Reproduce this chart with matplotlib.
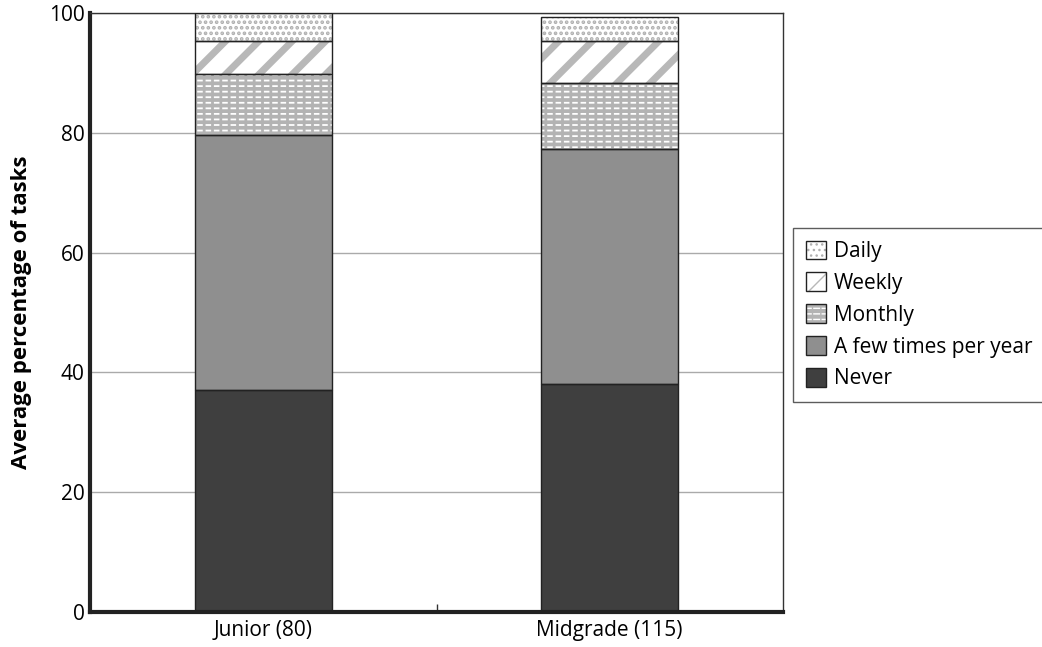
import numpy as np
import matplotlib.pyplot as plt
from matplotlib.patches import Patch
from matplotlib.legend_handler import HandlerTuple

groups = ['Junior (80)', 'Midgrade (115)']
never = [37.0, 38.0]
few_times = [42.6, 39.3]
monthly = [10.2, 11.0]
weekly = [5.5, 7.0]
daily = [4.7, 4.0]

series = ['Never', 'A few times per year', 'Monthly', 'Weekly', 'Daily']
values = [never, few_times, monthly, weekly, daily]
# list of layers per series: (face, hatch colour, hatch, hatch linewidth)
styles = [
    [('#3f3f3f', None, None, 1)],
    [('#8f8f8f', None, None, 1)],
    [('#b3b3b3', 'white', '---', 1.3), ('none', '#b3b3b3', '||', 2.0)],
    [('white', '#b8b8b8', '/', 5.0)],
    [('white', '#b0b0b0', '...', 1.8)],
]

plt.rcParams['font.family'] = ['Open Sans', 'DejaVu Sans']


def make_layer(ax, x, h, bottom, layer, width):
    face, hcol, hatch, hlw = layer
    with plt.rc_context({'hatch.linewidth': hlw}):
        if hatch:
            bars = ax.bar(x, h, width, bottom=bottom, color=face,
                          edgecolor=hcol, hatch=hatch, linewidth=0, zorder=2)
        else:
            bars = ax.bar(x, h, width, bottom=bottom, color=face, linewidth=0, zorder=2)
        for b in bars:
            if hasattr(b, 'set_hatch_linewidth'):
                b.set_hatch_linewidth(hlw)


def legend_handle(layers):
    parts = []
    for face, hcol, hatch, hlw in layers:
        lw = hlw if hatch == '/' else min(hlw, 2.5)
        with plt.rc_context({'hatch.linewidth': lw}):
            p = Patch(facecolor=face, edgecolor=hcol if hatch else face,
                      hatch=hatch, linewidth=0)
            if hasattr(p, 'set_hatch_linewidth'):
                p.set_hatch_linewidth(lw)
        parts.append(p)
    parts.append(Patch(fill=False, edgecolor='#222222', linewidth=1.0))
    return tuple(parts)


fig = plt.figure(figsize=(10.42, 6.47), dpi=100)
ax = fig.add_axes([90 / 1042, 35 / 647, 693 / 1042, 599 / 647])

x = np.arange(len(groups))
width = 0.395
bottom = np.zeros(len(groups))
handles = []
for name, vals, layers in zip(series, values, styles):
    for layer in layers:
        make_layer(ax, x, vals, bottom, layer, width)
    ax.bar(x, vals, width, bottom=bottom, fill=False, edgecolor='#222222',
           linewidth=1.0, zorder=3)
    bottom += np.array(vals)
    handles.append(legend_handle(layers))

ax.set_xlim(-0.5, 1.5)
ax.set_ylim(0, 100)
ax.set_yticks([0, 20, 40, 60, 80, 100])
ax.set_xticks(x)
ax.set_xticklabels(groups, fontsize=15)
ax.set_xticks([0.5], minor=True)
ax.tick_params(axis='x', which='major', length=0, pad=6)
ax.tick_params(axis='x', which='minor', direction='in', length=6, width=1, color='#333333')
ax.tick_params(axis='y', length=0, labelsize=15, pad=4)
ax.yaxis.grid(True, color='#aaaaaa', linewidth=1)
ax.set_axisbelow(True)
for s in ['left', 'bottom']:
    ax.spines[s].set_linewidth(3)
    ax.spines[s].set_color('#222222')
for s in ['top', 'right']:
    ax.spines[s].set_linewidth(1)
    ax.spines[s].set_color('#333333')
ax.set_ylabel('Average percentage of tasks', fontsize=16, fontweight='bold', labelpad=12)

leg = fig.legend(handles=handles[::-1], labels=series[::-1], loc='upper left',
                 bbox_to_anchor=(793 / 1042, 1 - 228 / 647), fontsize=15,
                 frameon=True, fancybox=False, edgecolor='#333333',
                 handlelength=1.0, handleheight=1.0, handletextpad=0.35,
                 labelspacing=0.5, borderpad=0.6, borderaxespad=0,
                 handler_map={tuple: HandlerTuple(ndivide=1, pad=0)})
leg.get_frame().set_linewidth(1)

fig.savefig('out.png', dpi=100)
